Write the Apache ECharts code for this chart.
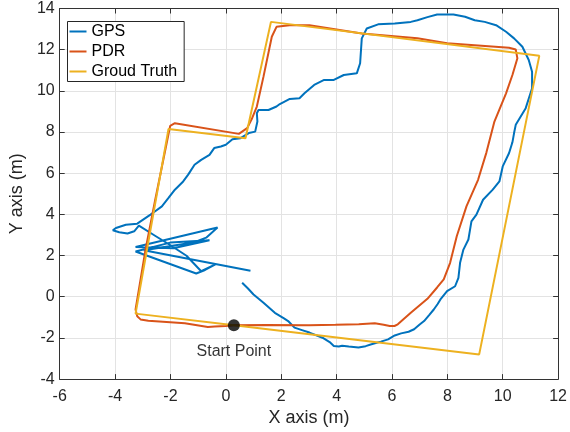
<!DOCTYPE html>
<html>
<head>
<meta charset="utf-8">
<script src="https://cdn.jsdelivr.net/npm/echarts@6/dist/echarts.min.js"></script>
<style>
  html, body { margin: 0; padding: 0; background: #fff; }
  #chart { width: 570px; height: 432px; }
</style>
</head>
<body>
<div id="chart"></div>
<script>
// Walking trajectories in metres: [x, y] pairs
const gpsTrack = [
  [0.59,0.68],[0.80,0.40],[1.00,0.11],[1.36,-0.29],[1.77,-0.78],[2.10,-1.05],[2.25,-1.18],
  [2.48,-1.50],[2.75,-1.62],[3.02,-1.74],[3.49,-1.99],[3.75,-2.20],[3.90,-2.39],[4.08,-2.42],
  [4.20,-2.38],[4.44,-2.42],[4.79,-2.47],[5.05,-2.40],[5.26,-2.31],[5.60,-2.18],[5.86,-2.07],
  [6.10,-1.88],[6.33,-1.78],[6.60,-1.70],[6.80,-1.58],[7.00,-1.35],[7.16,-1.18],[7.35,-0.88],
  [7.51,-0.62],[7.65,-0.35],[7.75,-0.13],[7.99,0.27],[8.28,0.51],[8.40,0.92],[8.46,1.65],
  [8.58,2.29],[8.76,2.78],[8.87,3.66],[9.05,3.99],[9.29,4.71],[9.64,5.20],[9.88,5.60],
  [10.00,6.33],[10.23,6.98],[10.35,7.50],[10.41,7.95],[10.47,8.35],[10.83,9.16],[11.06,10.13],
  [11.06,10.93],[10.94,11.50],[10.71,12.14],[10.41,12.55],[10.12,12.87],[9.76,13.19],
  [9.35,13.35],[8.99,13.43],[8.64,13.60],[8.22,13.71],[7.63,13.71],[7.28,13.58],[6.92,13.43],
  [6.68,13.35],[6.10,13.27],[5.50,13.23],[5.09,13.03],[4.91,12.55],[4.85,11.34],[4.73,10.85],
  [4.26,10.77],[3.90,10.53],[3.55,10.53],[3.19,10.29],[2.84,9.88],[2.66,9.64],[2.31,9.61],
  [1.95,9.36],[1.83,9.24],[1.54,9.07],[1.18,9.07],[1.12,8.91],[1.14,8.51],[1.06,8.02],
  [0.83,7.95],[0.53,7.70],[0.24,7.65],[0.00,7.38],[-0.18,7.30],[-0.42,7.22],[-0.59,6.89],
  [-0.89,6.65],[-1.13,6.41],[-1.36,5.93],[-1.54,5.60],[-1.84,5.20],[-2.07,4.80],[-2.31,4.39],
  [-2.55,4.15],[-2.72,3.99],[-3.08,3.66],[-3.20,3.55],[-3.61,3.50],[-3.97,3.34],[-4.08,3.23],
  [-3.85,3.13],[-3.55,3.07],[-3.31,3.18],[-3.14,3.45],[-2.60,3.00],[-2.00,2.50],[-1.42,1.99],
  [-0.89,1.24],[-0.36,1.58],[-0.75,1.30],[-1.07,1.13],[-3.26,2.20],[-2.01,2.63],[-0.59,2.74],
  [-1.90,2.36],[-3.26,2.42],[-0.30,3.36],[-0.71,2.87],[-1.18,2.63],[-2.96,2.26],[0.89,1.26]
];

const pdrTrack = [
  [0.29,-1.39],[1.48,-1.37],[3.00,-1.38],[3.96,-1.36],[4.80,-1.33],[5.38,-1.29],[5.70,-1.36],
  [5.92,-1.42],[6.09,-1.42],[6.21,-1.34],[6.68,-0.78],[7.28,-0.10],[7.63,0.45],[7.87,0.84],
  [8.10,1.65],[8.34,2.94],[8.69,4.39],[9.11,5.68],[9.41,7.00],[9.70,8.51],[10.12,9.88],
  [10.35,10.77],[10.53,11.58],[10.47,12.01],[10.23,12.09],[7.99,12.31],[6.92,12.55],
  [4.91,12.79],[3.02,13.19],[2.30,13.19],[1.83,13.11],[1.66,12.63],[1.36,10.69],[1.12,9.24],
  [0.95,8.67],[0.77,8.19],[0.47,7.91],[-1.84,8.43],[-2.01,8.30],[-2.55,4.71],[-2.90,2.29],
  [-3.26,-0.62],[-3.20,-0.95],[-3.08,-1.10],[-2.80,-1.17],[-1.48,-1.29],[-0.65,-1.47],
  [-0.40,-1.45],[0.00,-1.42],[0.29,-1.39]
];

const groundTruth = [
  [0.30,-1.39],[9.15,-2.80],[11.32,11.70],[1.63,13.35],[0.71,7.70],[-2.07,8.15],[-3.26,-0.82],
  [0.30,-1.39]
];

const startPoint = [[0.29, -1.39]];

const seriesNames = ['GPS', 'PDR', 'Groud Truth'];
const seriesColors = ['#0072BD', '#D95319', '#EDB120'];

const xRange = { min: -6, max: 12, step: 2 };
const yRange = { min: -4, max: 14, step: 2 };

const FONT = 'Liberation Sans, Arial, Helvetica, sans-serif';
const AXIS_COLOR = '#333333';
const GRID_COLOR = '#e3e3e3';

const chart = echarts.init(document.getElementById('chart'), null, { renderer: 'canvas' });

function frameAxis(base, extra) {
  return Object.assign({
    type: 'value',
    min: base.min,
    max: base.max,
    interval: base.step,
    axisLine: { show: true, onZero: false, lineStyle: { color: AXIS_COLOR, width: 1 } },
    axisTick: { show: true, inside: true, length: 5, lineStyle: { color: AXIS_COLOR } }
  }, extra);
}

const tickText = { color: '#262626', fontSize: 16, fontFamily: FONT };

chart.setOption({
  animation: false,
  backgroundColor: '#ffffff',
  grid: { left: 56, right: 7, top: 8.5, bottom: 52, containLabel: false },
  legend: {
    data: seriesNames,
    orient: 'vertical',
    left: 67.5,
    top: 21.5,
    padding: [2, 7, 2, 2],
    itemGap: 4,
    itemWidth: 17,
    itemHeight: 2,
    icon: 'rect',
    backgroundColor: '#ffffff',
    borderColor: '#262626',
    borderWidth: 1,
    borderRadius: 0,
    textStyle: { fontSize: 16, lineHeight: 16, color: '#000', fontFamily: FONT }
  },
  xAxis: [
    frameAxis(xRange, {
      position: 'bottom',
      name: 'X axis (m)',
      nameLocation: 'middle',
      nameGap: 27,
      nameTextStyle: { fontSize: 18, color: '#262626', fontFamily: FONT },
      axisLabel: Object.assign({ margin: 9 }, tickText),
      splitLine: { show: true, lineStyle: { color: GRID_COLOR, width: 1 } }
    }),
    frameAxis(xRange, {
      position: 'top',
      axisLabel: { show: false },
      splitLine: { show: false }
    })
  ],
  yAxis: [
    frameAxis(yRange, {
      position: 'left',
      name: 'Y axis (m)',
      nameLocation: 'middle',
      nameGap: 28,
      nameTextStyle: { fontSize: 18, color: '#262626', fontFamily: FONT },
      axisLabel: Object.assign({ margin: 5 }, tickText),
      splitLine: { show: true, lineStyle: { color: GRID_COLOR, width: 1 } }
    }),
    frameAxis(yRange, {
      position: 'right',
      axisLabel: { show: false },
      splitLine: { show: false }
    })
  ],
  series: [
    {
      name: seriesNames[0], type: 'line', data: gpsTrack, showSymbol: false,
      color: seriesColors[0], lineStyle: { width: 2, color: seriesColors[0] }, z: 2
    },
    {
      name: seriesNames[1], type: 'line', data: pdrTrack, showSymbol: false,
      color: seriesColors[1], lineStyle: { width: 2, color: seriesColors[1] }, z: 3
    },
    {
      name: seriesNames[2], type: 'line', data: groundTruth, showSymbol: false,
      color: seriesColors[2], lineStyle: { width: 2, color: seriesColors[2] }, z: 4
    },
    {
      name: 'start', type: 'scatter', data: startPoint, symbolSize: 12,
      itemStyle: { color: '#000000' }, z: 5,
      label: {
        show: true, position: 'bottom', distance: 12,
        formatter: 'Start Point', fontSize: 16, color: '#000', fontFamily: FONT
      }
    }
  ]
});
</script>
</body>
</html>
